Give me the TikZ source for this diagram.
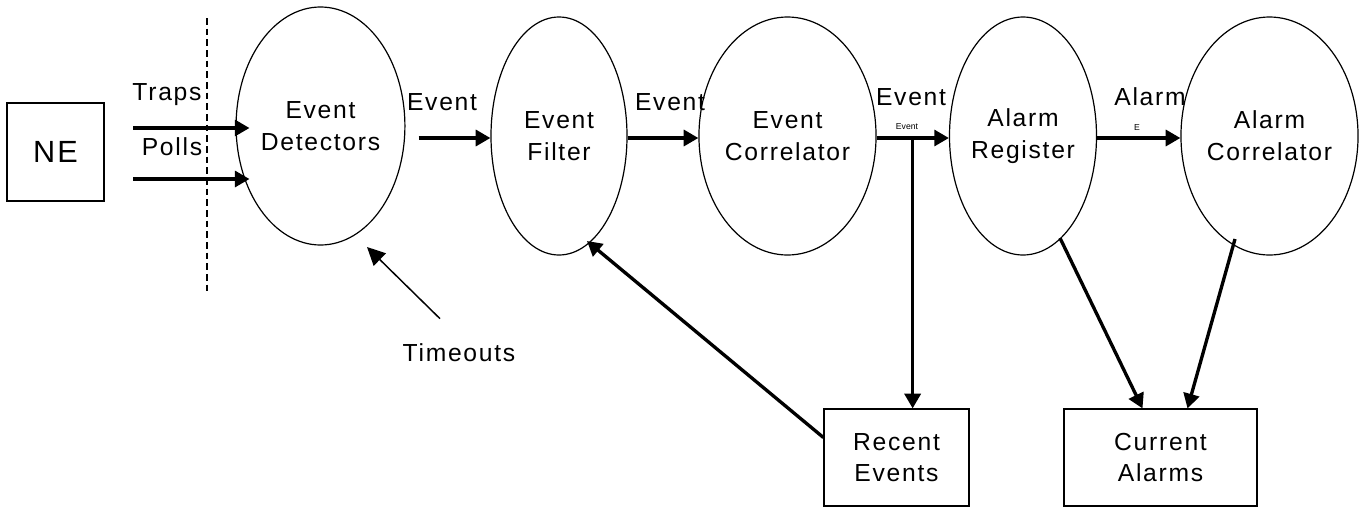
\documentclass[tikz,border=0pt]{standalone}
\usepackage{fontspec}
\setmainfont{Liberation Sans}[LetterSpace=7]
\newfontfamily\tinyfont{Liberation Sans}
\usetikzlibrary{shapes.geometric,arrows.meta,calc}
\begin{document}
\begin{tikzpicture}[x=0.75pt,y=-0.75pt,
  proc/.style={draw,ellipse,line width=0.9pt,inner sep=0pt,align=center,
    font=\fontsize{18.5}{24}\selectfont},
  store/.style={draw,rectangle,line width=0.9pt,inner sep=0pt,align=center,
    font=\fontsize{18.5}{23}\selectfont},
  lbl/.style={font=\fontsize{18.5}{24}\selectfont,inner sep=0pt},
  tiny/.style={font=\tinyfont\fontsize{6.5}{7}\selectfont,inner sep=0pt},
  arr/.style={line width=2.5pt,-{Triangle[length=11pt,width=12pt]}},
  thin arr/.style={line width=1.1pt,-{Triangle[length=13.5pt,width=13pt]}},
  fence/.style={line width=1.5pt,dash pattern=on 5pt off 3pt}]
\useasboundingbox (0,0) rectangle (1360,507);
% nodes
\node[store,minimum width=97*0.75pt,minimum height=98*0.75pt,
  font=\fontsize{23}{26}\selectfont] (ne) at (55.5,152) {NE};
\node[proc,minimum width=145*0.75pt,minimum height=238*0.75pt] (ed) at (320.5,126) {Event\\Detectors};
\node[proc,minimum width=136*0.75pt,minimum height=238*0.75pt] (ef) at (559,136) {Event\\Filter};
\node[proc,minimum width=155*0.75pt,minimum height=238*0.75pt] (ec) at (787.5,136) {Event\\Correlator};
\node[proc,minimum width=144*0.75pt,minimum height=238*0.75pt] (ar) at (1023,136) {Alarm\\Register};
\node[proc,minimum width=157*0.75pt,minimum height=238*0.75pt] (ac) at (1269.5,136) {Alarm\\Correlator};
\node[store,minimum width=145*0.75pt,minimum height=97*0.75pt] (re) at (896.5,457.5) {Recent\\Events};
\node[store,minimum width=193*0.75pt,minimum height=97*0.75pt] (ca) at (1160.5,457.5) {Current\\Alarms};
% labels
\node[lbl] (ltraps) at (167,95) {Traps};
\node[lbl] (lpolls) at (172,147) {Polls};
\node[lbl] (lev1) at (442,102) {Event};
\node[lbl] (lev2) at (670,102) {Event};
\node[lbl] (lev3) at (911,97) {Event};
\node[tiny] (lev3s) at (907,127) {Event};
\node[lbl] (lal) at (1150,97) {Alarm};
\node[tiny] (lals) at (1137,128) {E};
\node[lbl] (to) at (459,353) {Timeouts};
% fence
\coordinate (ft) at (207,18);
\coordinate (fb) at (207,295);
\draw[fence] (ft) -- (fb);
% connectors
\coordinate (tr) at (133,128);
\coordinate (po) at (133,179);
\draw[arr] (tr) -- ($(ed.west)+(14,2)$);
\draw[arr] (po) -- ($(ed.west)+(14,53)$);
\draw[arr] ($(ed.east)+(13,12)$) -- ($(ef.west)+(0,2)$);
\draw[arr] ($(ef.east)+(0,2)$) -- ($(ec.west)+(0,2)$);
\draw[arr] ($(ec.east)+(0,2)$) -- ($(ar.west)+(0,2)$);
\draw[arr] ($(ar.east)+(0,2)$) -- ($(ac.west)+(0,2)$);
\coordinate (j) at ($(ec.east)+(36,2)$);
\draw[arr] (j) -- (j |- re.north);
\draw[arr] ($(re.west)+(0,-20)$) -- ($(ef.center)+(28,105)$);
\draw[thin arr] ($(to.north)+(-19,-25)$) -- ($(ed.center)+(46.5,121)$);
\draw[arr] ($(ar.center)+(37,102)$) -- ($(ca.north)+(-18,0)$);
\draw[arr] ($(ac.center)+(-34.5,103)$) -- ($(ca.north)+(27,0)$);
\end{tikzpicture}
\end{document}
